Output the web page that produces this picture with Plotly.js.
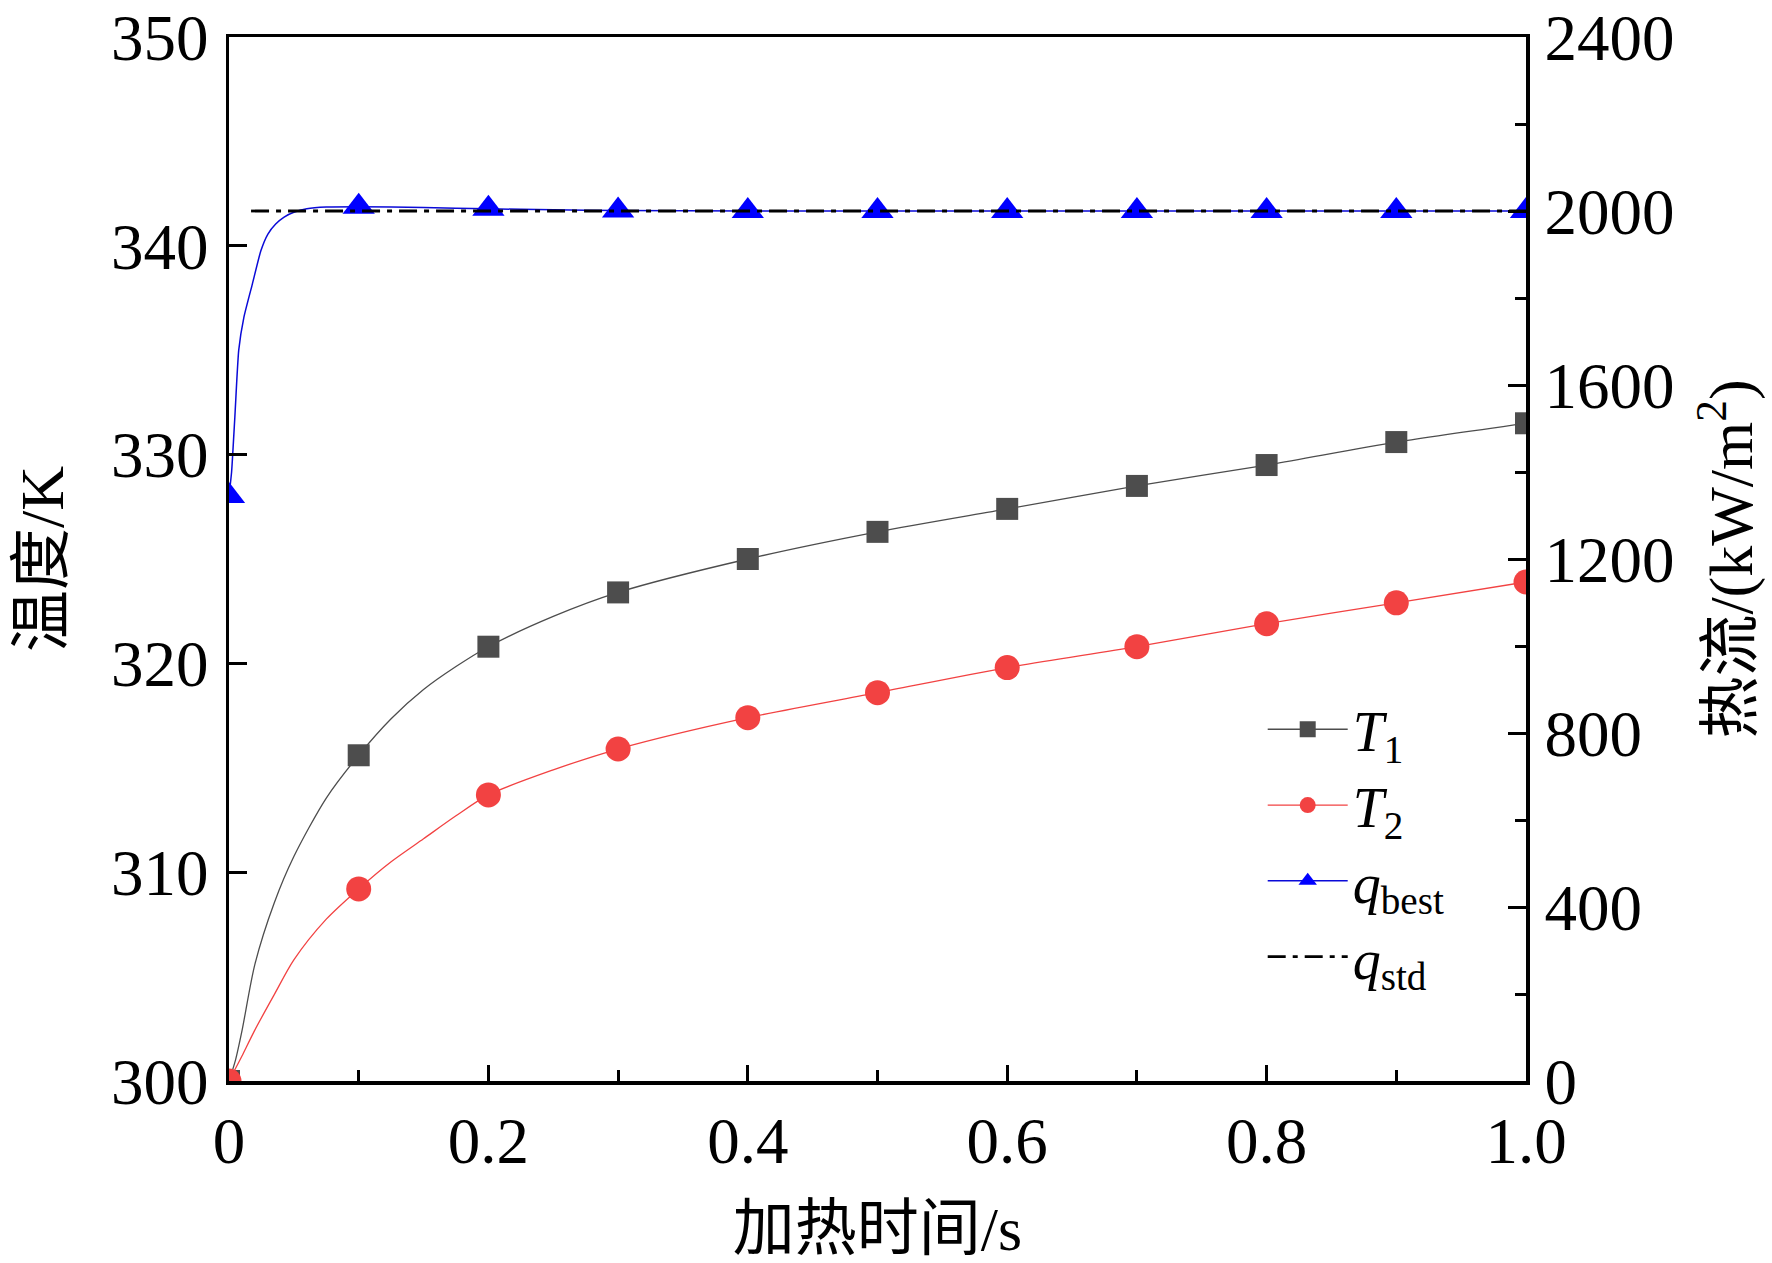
<!DOCTYPE html>
<html>
<head>
<meta charset="utf-8">
<script src="https://cdn.plot.ly/plotly-3.0.1.min.js"></script>
<style>html,body{margin:0;padding:0;background:#fff;}#chart{width:1772px;height:1263px;}</style>
</head>
<body>
<div id="chart"></div>
<script>
// ---- data ----
const timeT = [0, 0.005, 0.01, 0.02, 0.035, 0.05, 0.075, 0.1, 0.125, 0.15, 0.175, 0.2, 0.25, 0.3, 0.4, 0.5, 0.6, 0.7, 0.8, 0.9, 1.0];
const T1 = [300, 301.0, 302.4, 305.6, 308.55, 310.75, 313.55, 315.6, 317.35, 318.75, 319.85, 320.8, 322.25, 323.4, 325.0, 326.3, 327.4, 328.5, 329.5, 330.6, 331.5];
const T2 = [300, 300.6, 301.2, 302.45, 304.15, 305.8, 307.75, 309.2, 310.5, 311.6, 312.7, 313.7, 314.9, 315.9, 317.4, 318.6, 319.8, 320.8, 321.9, 322.9, 323.9];
const timeQ = [0, 0.002, 0.0045, 0.0075, 0.0115, 0.018, 0.0245, 0.03, 0.036, 0.0425, 0.05, 0.06, 0.075, 0.1, 0.15, 0.2, 0.25, 0.3, 0.4, 0.5, 0.6, 0.7, 0.8, 0.9, 1.0];
const qBest = [1345, 1400, 1526, 1680, 1756, 1832, 1908, 1947, 1970, 1986, 1997, 2005, 2009, 2010, 2008, 2005, 2003, 2001, 2000, 2000, 2000, 2000, 2000, 2000, 2000];
const timeStd = [0.017, 1.0];
const qStd = [2000, 2000];
const xTickVals = [0, 0.2, 0.4, 0.6, 0.8, 1.0];
const xTickText = ['0', '0.2', '0.4', '0.6', '0.8', '1.0'];
const names = ['<i>T</i><sub>1</sub>', '<i>T</i><sub>2</sub>', '<i>q</i><sub>best</sub>', '<i>q</i><sub>std</sub>'];

// markers only on the 0.1 s grid
function markerColors(times, color) {
  return times.map(t => Math.abs(t * 10 - Math.round(t * 10)) < 1e-9 ? color : 'rgba(0,0,0,0)');
}

const FONT = 'Liberation Serif, "Times New Roman", "Noto Sans CJK SC", serif';
const gray = '#4d4d4d', red = '#f24242', blue = '#0000ff';
const TICKFONT = {family: FONT, size: 65, color: '#000'};

const traces = [
  {x: timeT, y: T1, name: names[0], mode: 'lines+markers', type: 'scatter',
   line: {color: gray, width: 1.3, shape: 'spline', smoothing: 0.8},
   marker: {symbol: 'square', size: 22, color: markerColors(timeT, gray)}},
  {x: timeT, y: T2, name: names[1], mode: 'lines+markers', type: 'scatter',
   line: {color: red, width: 1.3, shape: 'spline', smoothing: 0.8},
   marker: {symbol: 'circle', size: 25, color: markerColors(timeT, red)}},
  {x: timeQ, y: qBest, name: names[2], mode: 'lines+markers', type: 'scatter', yaxis: 'y2',
   line: {color: '#0a0ad8', width: 1.5, shape: 'spline', smoothing: 0.5},
   marker: {symbol: 'triangle-up', size: 28, color: markerColors(timeQ, blue)}},
  {x: timeStd, y: qStd, name: names[3], mode: 'lines', type: 'scatter', yaxis: 'y2',
   line: {color: '#000000', width: 2.8, dash: '18px,7px,5px,7px'}}
];

const layout = {
  width: 1772, height: 1263,
  margin: {l: 229, r: 246, t: 37, b: 182},
  paper_bgcolor: '#fff', plot_bgcolor: '#fff',
  font: {family: FONT, size: 62, color: '#000'},
  showlegend: true,
  legend: {x: 0.797, y: 0.378, xanchor: 'left', yanchor: 'top', bgcolor: 'rgba(0,0,0,0)',
           font: {family: FONT, size: 56, color: '#000'}, itemwidth: 80, tracegroupgap: 0},
  xaxis: {range: [0, 1], tickvals: xTickVals, ticktext: xTickText, ticks: 'inside', ticklen: 16, tickwidth: 3,
          tickcolor: '#000', showline: true, linewidth: 3.5, linecolor: '#000', mirror: true,
          showgrid: false, zeroline: false, ticklabelstandoff: 0, ticklabeloverflow: 'allow',
          tickfont: TICKFONT,
          minor: {dtick: 0.1, ticks: 'inside', ticklen: 11, tickwidth: 3, tickcolor: '#000', showgrid: false},
          title: {text: '加热时间/s', font: {family: FONT, size: 62}, standoff: 38}},
  yaxis: {range: [300, 350], dtick: 10, ticks: 'inside', ticklen: 18, tickwidth: 3, tickcolor: '#000',
          showline: true, linewidth: 3.5, linecolor: '#000', showgrid: false, zeroline: false,
          ticklabelstandoff: 4, ticklabeloverflow: 'allow', tickfont: TICKFONT,
          title: {text: '温度/K', font: {family: FONT, size: 62}, standoff: 28}},
  yaxis2: {range: [0, 2400], dtick: 400, overlaying: 'y', side: 'right', ticks: 'inside', ticklen: 18,
           tickwidth: 3, tickcolor: '#000', showline: true, linewidth: 3.5, linecolor: '#000',
           showgrid: false, zeroline: false, ticklabelstandoff: 2, ticklabeloverflow: 'allow',
           tickfont: TICKFONT,
           minor: {dtick: 200, ticks: 'inside', ticklen: 11, tickwidth: 3, tickcolor: '#000', showgrid: false},
           title: {text: '热流/(kW/m<sup>2</sup>)', font: {family: FONT, size: 62}, standoff: 36}}
};

Plotly.newPlot('chart', traces, layout, {displayModeBar: false, staticPlot: true});
</script>
</body>
</html>
